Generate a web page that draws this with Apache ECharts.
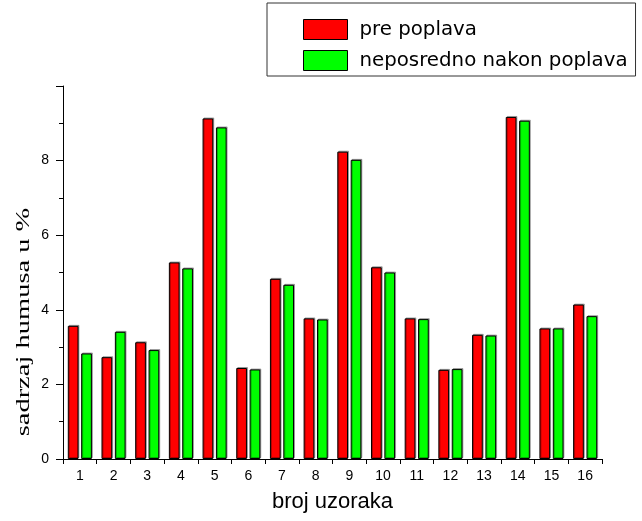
<!DOCTYPE html>
<html>
<head>
<meta charset="utf-8">
<script src="https://cdn.jsdelivr.net/npm/echarts@6/dist/echarts.min.js"></script>
<style>
html,body{margin:0;padding:0;background:#fff;}
#chart{width:642px;height:521px;}
</style>
</head>
<body>
<div id="chart"></div>
<script>
var categories = ['1','2','3','4','5','6','7','8','9','10','11','12','13','14','15','16'];
var prePoplava = [3.57, 2.73, 3.13, 5.27, 9.13, 2.44, 4.83, 3.77, 8.24, 5.14, 3.77, 2.39, 3.33, 9.17, 3.50, 4.14];
var nakonPoplava = [2.83, 3.41, 2.92, 5.11, 8.89, 2.40, 4.67, 3.74, 8.02, 5.00, 3.75, 2.41, 3.31, 9.07, 3.50, 3.83];
var seriesNames = ['pre poplava', 'neposredno nakon poplava'];
var yTicks = [0, 2, 4, 6, 8];

var chart = echarts.init(document.getElementById('chart'), null, {renderer: 'canvas'});
var sansFont = '"Liberation Sans", Arial, sans-serif';
var barStyle = function (color) {
  return {
    color: color,
    borderColor: '#000',
    borderWidth: 1,
    shadowColor: 'rgba(0,0,0,0.3)',
    shadowBlur: 0,
    shadowOffsetX: 1,
    shadowOffsetY: -1
  };
};
chart.setOption({
  animation: false,
  backgroundColor: '#fff',
  grid: {left: 63, right: 40, top: 86, bottom: 62},
  legend: {
    orient: 'vertical',
    left: 267,
    top: 3,
    padding: [16, 8, 5, 36],
    itemWidth: 44,
    itemHeight: 20,
    itemGap: 10,
    borderColor: '#333',
    borderWidth: 1,
    icon: 'rect',
    textStyle: {fontFamily: '"DejaVu Sans", sans-serif', fontSize: 19.8, color: '#000', padding: [0, 0, 0, 7]},
    itemStyle: {borderColor: '#000', borderWidth: 1, shadowColor: 'transparent', shadowOffsetX: 0, shadowOffsetY: 0},
    data: seriesNames
  },
  xAxis: {
    type: 'category',
    data: categories,
    name: 'broj uzoraka',
    nameLocation: 'middle',
    nameGap: 32,
    nameTextStyle: {fontFamily: sansFont, fontSize: 22, color: '#000'},
    axisLine: {lineStyle: {color: '#000', width: 1}},
    axisTick: {show: true, length: 5, lineStyle: {color: '#000'}},
    axisLabel: {fontFamily: sansFont, fontSize: 14, color: '#000', margin: 10},
    splitLine: {show: false}
  },
  yAxis: {
    type: 'value',
    min: 0,
    max: 10,
    interval: 2,
    axisLine: {show: true, lineStyle: {color: '#000', width: 1}},
    axisTick: {show: true, length: 7, lineStyle: {color: '#000'}},
    minorTick: {show: true, splitNumber: 2, length: 4, lineStyle: {color: '#000'}},
    axisLabel: {
      fontFamily: sansFont, fontSize: 14, color: '#000', margin: 14,
      formatter: function (v) { return yTicks.indexOf(v) >= 0 ? String(v) : ''; }
    },
    splitLine: {show: false},
    minorSplitLine: {show: false}
  },
  graphic: [{
    type: 'text',
    x: 24,
    y: 322,
    rotation: Math.PI / 2,
    scaleX: 1.5,
    style: {
      text: 'sadrzaj humusa u %',
      font: '19px "Liberation Serif", "Times New Roman", serif',
      fill: '#000',
      textAlign: 'center',
      textVerticalAlign: 'middle'
    }
  }],
  series: [{
    name: seriesNames[0],
    type: 'bar',
    data: prePoplava,
    barWidth: 10.7,
    barGap: '25%',
    itemStyle: barStyle('#ff0000')
  }, {
    name: seriesNames[1],
    type: 'bar',
    data: nakonPoplava,
    barWidth: 10.7,
    itemStyle: barStyle('#00ff00')
  }]
});
</script>
</body>
</html>
